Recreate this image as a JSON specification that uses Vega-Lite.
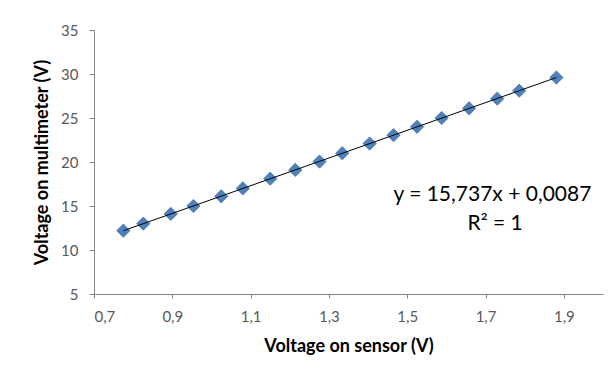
{
  "$schema": "https://vega.github.io/schema/vega-lite/v6.json",
  "width": 509,
  "height": 264,
  "autosize": "none",
  "padding": {"left": 94, "top": 30, "right": 11, "bottom": 80},
  "background": "white",
  "config": {
    "view": {"stroke": null},
    "font": "Lato",
    "axis": {
      "grid": false,
      "domainColor": "#868686",
      "tickColor": "#868686",
      "labelColor": "#595959",
      "labelFont": "Lato",
      "labelFontSize": 15,
      "titleFont": "Lato",
      "titleFontSize": 18,
      "titleFontWeight": "bold",
      "titleColor": "#000000"
    }
  },
  "layer": [
    {
      "data": {
        "values": [
          {"s": 0.775, "v": 12.2},
          {"s": 0.826, "v": 13.0},
          {"s": 0.896, "v": 14.1},
          {"s": 0.954, "v": 15.0},
          {"s": 1.025, "v": 16.1},
          {"s": 1.080, "v": 17.0},
          {"s": 1.150, "v": 18.1},
          {"s": 1.214, "v": 19.1},
          {"s": 1.276, "v": 20.05},
          {"s": 1.334, "v": 21.0},
          {"s": 1.404, "v": 22.1},
          {"s": 1.465, "v": 23.05},
          {"s": 1.525, "v": 24.0},
          {"s": 1.588, "v": 25.0},
          {"s": 1.658, "v": 26.1},
          {"s": 1.730, "v": 27.2},
          {"s": 1.786, "v": 28.1},
          {"s": 1.881, "v": 29.6}
        ]
      },
      "encoding": {
        "x": {
          "field": "s",
          "type": "quantitative",
          "title": "Voltage on sensor (V)",
          "scale": {"domain": [0.7, 2.0], "nice": false, "zero": false},
          "axis": {
            "values": [0.7, 0.9, 1.1, 1.3, 1.5, 1.7, 1.9],
            "labelExpr": "replace(format(datum.value, '.1f'), '.', ',')",
            "tickSize": 4,
            "labelPadding": 11,
            "titlePadding": 13
          }
        },
        "y": {
          "field": "v",
          "type": "quantitative",
          "title": "Voltage on multimeter (V)",
          "scale": {"domain": [5, 35], "nice": false, "zero": false},
          "axis": {
            "values": [5, 10, 15, 20, 25, 30, 35],
            "tickSize": 5,
            "labelPadding": 11,
            "titlePadding": 9
          }
        }
      },
      "layer": [
        {
          "mark": {"type": "point", "shape": "diamond", "filled": true, "size": 175, "color": "#4f81bd", "opacity": 1, "stroke": "#41709f", "strokeWidth": 0.8}
        },
        {
          "transform": [{"regression": "v", "on": "s"}],
          "mark": {"type": "line", "color": "#000000", "strokeWidth": 1}
        }
      ]
    },
    {
      "data": {"values": [{"label": "y = 15,737x + 0,0087", "px": 1.7176, "py": 16.27}]},
      "mark": {"type": "text", "fontSize": 21, "fontWeight": "normal", "font": "Lato", "color": "#000000", "align": "center", "baseline": "middle"},
      "encoding": {
        "x": {"field": "px", "type": "quantitative"},
        "y": {"field": "py", "type": "quantitative"},
        "text": {"field": "label", "type": "nominal"}
      }
    },
    {
      "data": {"values": [{"label": "R² = 1", "px": 1.7245, "py": 12.98}]},
      "mark": {"type": "text", "fontSize": 21, "fontWeight": "normal", "font": "Lato", "color": "#000000", "align": "center", "baseline": "middle"},
      "encoding": {
        "x": {"field": "px", "type": "quantitative"},
        "y": {"field": "py", "type": "quantitative"},
        "text": {"field": "label", "type": "nominal"}
      }
    }
  ]
}
